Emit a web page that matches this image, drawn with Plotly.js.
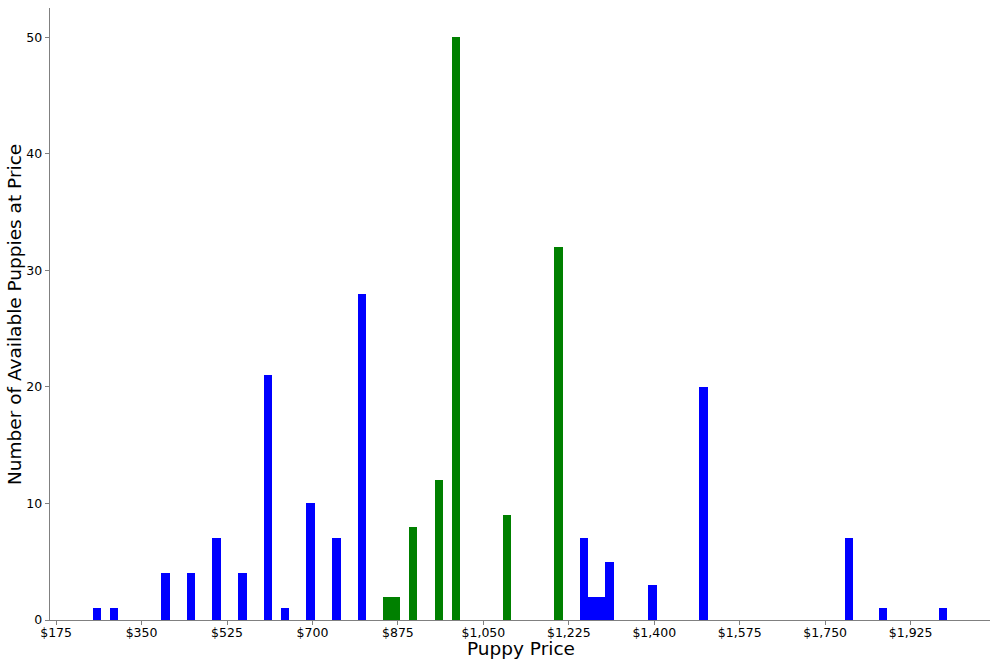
<!DOCTYPE html>
<html>
<head>
<meta charset="utf-8">
<script src="https://cdn.plot.ly/plotly-3.0.1.min.js"></script>
<style>html,body{margin:0;padding:0;background:#fff;}#chart{width:1000px;height:666px;}</style>
</head>
<body>
<div id="chart"></div>
<script>
// Histogram bins: lower edge of each price bin (bin width $17.50)
var binWidth = 17.5;
var bluePrices = [250, 285, 390, 442.5, 495, 547.5, 600, 635, 687.5, 740, 792.5, 1247.5, 1265, 1282.5, 1300, 1387.5, 1492.5, 1790, 1860, 1982.5];
var blueCounts = [1, 1, 4, 4, 7, 4, 21, 1, 10, 7, 28, 7, 2, 2, 5, 3, 20, 7, 1, 1];
var greenPrices = [845, 862.5, 897.5, 950, 985, 1090, 1195];
var greenCounts = [2, 2, 8, 12, 50, 9, 32];
var tickValues = [175, 350, 525, 700, 875, 1050, 1225, 1400, 1575, 1750, 1925];
var tickLabels = ["$175", "$350", "$525", "$700", "$875", "$1,050", "$1,225", "$1,400", "$1,575", "$1,750", "$1,925"];
var yTicks = [0, 10, 20, 30, 40, 50];
var xTitle = "Puppy Price";
var yTitle = "Number of Available Puppies at Price";

var font = "DejaVu Sans, sans-serif";
var traces = [
  {type: "bar", x: bluePrices, y: blueCounts, width: binWidth, offset: 0,
   marker: {color: "#0000ff", line: {width: 0}}, hoverinfo: "x+y"},
  {type: "bar", x: greenPrices, y: greenCounts, width: binWidth, offset: 0,
   marker: {color: "#008000", line: {width: 0}}, hoverinfo: "x+y"}
];
var layout = {
  width: 1000, height: 666,
  margin: {l: 50, r: 10, t: 8, b: 46, pad: 0},
  paper_bgcolor: "#fff", plot_bgcolor: "#fff",
  showlegend: false,
  barmode: "overlay",
  bargap: 0,
  font: {family: font, size: 13, color: "#000"},
  xaxis: {
    range: [162.5, 2087.5],
    tickmode: "array", tickvals: tickValues, ticktext: tickLabels,
    ticks: "outside", ticklen: 3.5, tickcolor: "#808080", tickwidth: 1,
    ticklabelstandoff: -3,
    showline: true, linecolor: "#808080", linewidth: 1.3,
    showgrid: false, zeroline: false,
    tickfont: {family: font, size: 12.5, color: "#000"},
    title: {text: ""}
  },
  yaxis: {
    range: [0, 52.5],
    tickmode: "array", tickvals: yTicks,
    ticks: "outside", ticklen: 4, tickcolor: "#808080", tickwidth: 1,
    showline: true, linecolor: "#808080", linewidth: 1.3,
    showgrid: false, zeroline: false,
    tickfont: {family: font, size: 12.5, color: "#000"},
    title: {text: ""}
  },
  annotations: [
    {text: xTitle, xref: "paper", yref: "paper", x: 0.501, y: -0.0458,
     xanchor: "center", yanchor: "middle", showarrow: false,
     font: {family: font, size: 18.5, color: "#000"}},
    {text: yTitle, xref: "paper", yref: "paper", x: -0.0383, y: 0.5,
     xanchor: "center", yanchor: "middle", showarrow: false, textangle: -90,
     font: {family: font, size: 18.5, color: "#000"}}
  ]
};
Plotly.newPlot("chart", traces, layout, {staticPlot: true, displayModeBar: false});
</script>
</body>
</html>
